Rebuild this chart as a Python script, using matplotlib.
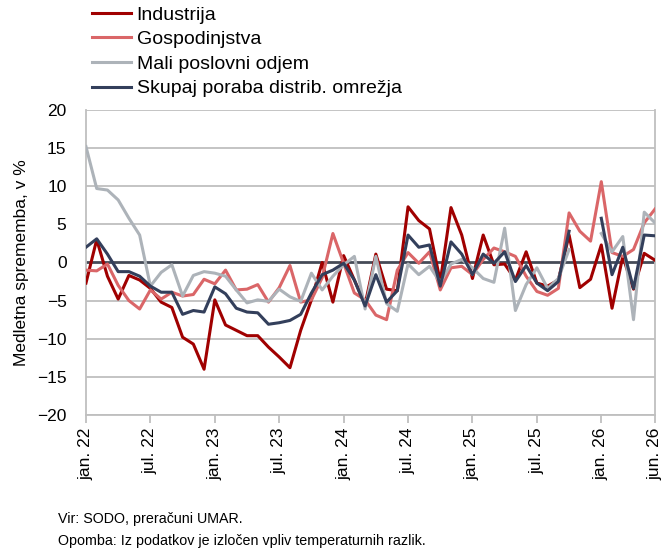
import numpy as np
import matplotlib
matplotlib.use("Agg")
import matplotlib.pyplot as plt

nan = np.nan

tick_pos = [0, 6, 12, 18, 24, 30, 36, 42, 48, 53]
tick_labels = ["jan. 22", "jul. 22", "jan. 23", "jul. 23", "jan. 24",
               "jul. 24", "jan. 25", "jul. 25", "jan. 26", "jun. 26"]

industrija = [-2.7, 3.0, -1.8, -4.8, -1.7, -2.3, -3.4, -5.2, -5.9, -9.8,
              -10.7, -14.0, -4.9, -8.2, -8.9, -9.6, -9.6, -11.1, -12.4, -13.8,
              -8.9, -4.9, 0.0, -5.2, 0.9, -2.3, -5.5, 1.1, -3.5, -3.7,
              7.3, 5.5, 4.4, -2.5, 7.2, 3.6, -2.1, 3.6, -0.3, -0.2,
              -2.3, 1.4, -2.7, -3.1, -2.3, 3.6, -3.3, -2.2, 2.3, -6.0,
              0.8, -3.5, 1.2, 0.3]

gospodinjstva = [-1.0, -1.1, -0.2, -3.0, -5.0, -6.1, -3.6, -4.8, -3.9, -4.4,
                 -4.2, -2.2, -2.8, -1.0, -3.6, -3.5, -2.9, -5.2, -3.3, -0.4,
                 -5.2, -4.9, -2.0, 3.8, -0.1, -4.0, -4.9, -6.9, -7.5, -1.0,
                 1.3, -0.1, 1.4, -3.6, -0.7, -0.5, -1.6, 0.4, 1.9, 1.4,
                 0.8, -1.8, -3.8, -4.3, -3.4, 6.5, 4.1, 2.8, 10.6, 1.3,
                 0.8, 1.7, 5.2, 7.0]

mali = [15.2, 9.7, 9.5, 8.2, 5.8, 3.6, -3.1, -1.3, -0.3, -4.4,
        -1.7, -1.2, -1.4, -1.8, -3.6, -5.3, -4.9, -5.1, -3.5, -4.5,
        -5.1, -1.4, -3.6, -1.8, -0.3, 0.8, -6.1, 0.8, -5.4, -6.4,
        -0.2, -1.6, -0.5, -2.6, -0.2, 0.4, -0.7, -2.1, -2.6, 4.5,
        -6.3, -2.9, -0.7, -3.4, -2.1, 1.7, nan, nan, 3.8, 1.4,
        3.4, -7.5, 6.6, 5.2]

skupaj = [2.0, 3.1, 1.1, -1.2, -1.2, -1.8, -3.1, -3.9, -3.9, -6.8,
          -6.3, -6.5, -3.2, -4.1, -6.0, -6.5, -6.6, -8.1, -7.9, -7.6,
          -6.8, -4.0, -1.6, -1.0, -0.1, -2.3, -5.7, -1.6, -5.2, -3.7,
          3.6, 2.0, 2.3, -3.1, 2.7, 1.1, -1.6, 1.1, -0.1, 1.4,
          -2.5, -0.4, -2.7, -3.7, -2.5, 4.1, nan, nan, 5.8, -1.6,
          2.0, -3.4, 3.6, 3.5]

plt.rcParams["font.family"] = ["Liberation Sans", "DejaVu Sans"]

months = np.arange(len(industrija))

fig = plt.figure(figsize=[6.68, 5.58], dpi=100)
ax = fig.add_axes([0.1287, 0.2563, 0.8518, 0.5466])

grid_col = "#BFBFBF"
for v in range(-20, 25, 5):
    if v != 0:
        ax.axhline(v, color=grid_col, lw=1.3, zorder=1)
ax.axhline(0, color="#454B57", lw=2.0, zorder=2)

ax.plot(months, industrija, color="#A00000", lw=2.2, label="Industrija", zorder=3)
ax.plot(months, gospodinjstva, color="#DA6668", lw=2.2, label="Gospodinjstva", zorder=3)
ax.plot(months, mali, color="#ADB3B9", lw=2.2, label="Mali poslovni odjem", zorder=3)
ax.plot(months, skupaj, color="#333F5B", lw=2.2, label="Skupaj poraba distrib. omrežja", zorder=4)

ax.set_xlim(0, 53)
ax.set_ylim(-20, 20)
ax.set_yticks(range(-20, 25, 5))
ax.set_xticks(tick_pos)
ax.set_xticklabels(tick_labels, rotation=90, fontsize=12.5)
ax.tick_params(axis="y", length=0, labelsize=12.5, pad=14)
ax.tick_params(axis="x", length=6, width=1.3, color=grid_col, pad=3)
ax.set_ylabel("Medletna sprememba, v %", fontsize=12.5, labelpad=6)

for s in ["left", "right", "bottom"]:
    ax.spines[s].set_color(grid_col)
    ax.spines[s].set_linewidth(1.3)
ax.spines["top"].set_visible(False)

leg = fig.legend(loc="upper left", bbox_to_anchor=(92 / 668, 1 - 6 / 558), frameon=False,
                 fontsize=14, handlelength=2.0, handletextpad=0.3, labelspacing=0.36,
                 borderpad=0, borderaxespad=0)

fig.text(0.087, 0.062, "Vir: SODO, preračuni UMAR.", fontsize=10.3)
fig.text(0.087, 0.024, "Opomba: Iz podatkov je izločen vpliv temperaturnih razlik.", fontsize=10.3)

fig.savefig("out.png", dpi=100)
